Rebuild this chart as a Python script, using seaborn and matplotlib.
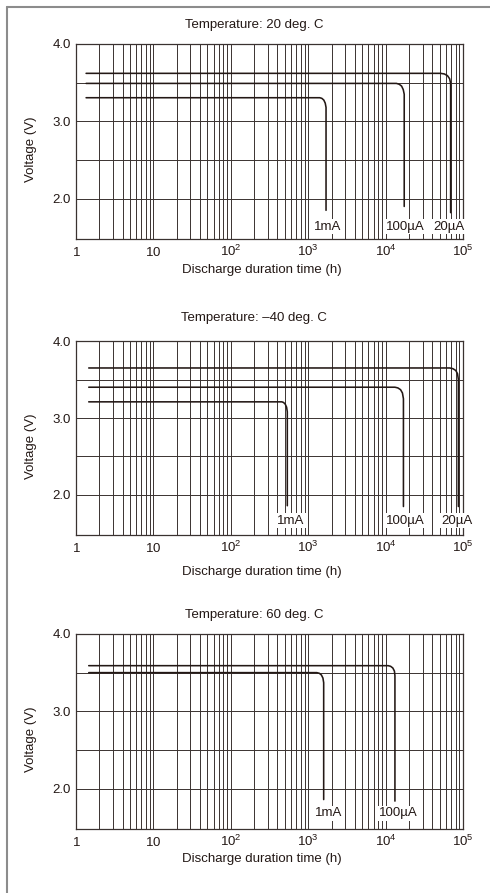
import matplotlib
matplotlib.use("Agg")
import matplotlib.pyplot as plt
from matplotlib.lines import Line2D
from matplotlib.ticker import LogLocator, NullFormatter
import seaborn as sns
import pandas as pd

# Titles of the three panels
titulos = [
    "Temperature: 20 deg. C",
    "Temperature: \u201340 deg. C",
    "Temperature: 60 deg. C",
]

# 20 deg. C  (hours, volts)
t20_20ua_h = [1.35, 51300, 57500, 63000, 67200, 69200, 69200]
t20_20ua_v = [3.62, 3.62, 3.612, 3.59, 3.55, 3.49, 1.82]
t20_100ua_h = [1.35, 13800, 15000, 16100, 16900, 17400, 17400]
t20_100ua_v = [3.49, 3.49, 3.479, 3.455, 3.41, 3.35, 1.90]
t20_1ma_h = [1.35, 1410, 1500, 1590, 1660, 1700, 1700]
t20_1ma_v = [3.305, 3.305, 3.297, 3.275, 3.235, 3.18, 1.85]

# -40 deg. C
tm40_20ua_h = [1.46, 67600, 74000, 80500, 85000, 87100, 87100]
tm40_20ua_v = [3.65, 3.65, 3.641, 3.618, 3.575, 3.50, 1.85]
tm40_100ua_h = [1.46, 13200, 14400, 15600, 16500, 17000, 17000]
tm40_100ua_v = [3.40, 3.40, 3.391, 3.368, 3.325, 3.25, 1.85]
tm40_1ma_h = [1.46, 457, 480, 505, 526, 537, 537]
tm40_1ma_v = [3.21, 3.21, 3.202, 3.18, 3.14, 3.08, 1.86]

# 60 deg. C
t60_100ua_h = [1.46, 10800, 11600, 12400, 13000, 13200, 13200]
t60_100ua_v = [3.59, 3.59, 3.582, 3.56, 3.52, 3.46, 1.84]
t60_1ma_h = [1.46, 1290, 1390, 1480, 1550, 1585, 1585]
t60_1ma_v = [3.50, 3.50, 3.492, 3.47, 3.43, 3.37, 1.86]

# Curve labels
rotulos_20 = ["1mA", "100\u00b5A", "20\u00b5A"]
rotulos_m40 = ["1mA", "100\u00b5A", "20\u00b5A"]
rotulos_60 = ["1mA", "100\u00b5A"]

# Axis ticks
x_ticks = [1, 10, 100, 1000, 10000, 100000]
x_tick_labels = [
    r"$\mathregular{1}$",
    r"$\mathregular{10}$",
    r"$\mathregular{10^2}$",
    r"$\mathregular{10^3}$",
    r"$\mathregular{10^4}$",
    r"$\mathregular{10^5}$",
]
y_ticks = [2.0, 3.0, 4.0]
y_tick_labels = ["2.0", "3.0", "4.0"]
y_minor = [2.5, 3.5]

PRETO = "#231815"
CINZA_GRADE = "#3a3230"


def montar_df(curvas):
    linhas = []
    for nome, hs, vs in curvas:
        for h, v in zip(hs, vs):
            linhas.append({"curva": nome, "horas": h, "volts": v})
    return pd.DataFrame(linhas)


def desenhar_painel(ax, titulo, curvas, rotulos, rotulo_x, rotulo_y, titulo_y, xlabel_y):
    df = montar_df(curvas)
    sns.lineplot(
        data=df, x="horas", y="volts", units="curva", estimator=None,
        sort=False, color=PRETO, lw=1.15, ax=ax, zorder=3,
    )
    ax.set_xscale("log")
    ax.set_xlim(1, 1e5)
    ax.set_ylim(1.48, 4.0)

    ax.set_xticks(x_ticks)
    ax.set_xticklabels(x_tick_labels)
    ax.xaxis.set_minor_locator(LogLocator(base=10, subs=range(2, 10), numticks=20))
    ax.xaxis.set_minor_formatter(NullFormatter())
    ax.set_yticks(y_ticks)
    ax.set_yticklabels(y_tick_labels)
    ax.set_yticks(y_minor, minor=True)

    ax.tick_params(which="both", length=0)
    ax.tick_params(axis="x", pad=12.5, labelsize=9.5, colors=PRETO)
    ax.tick_params(axis="y", pad=3.5, labelsize=9.5, colors=PRETO)
    for lab in ax.get_xticklabels():
        lab.set_verticalalignment("baseline")

    ax.grid(True, which="both", color=CINZA_GRADE, lw=0.7, zorder=1)
    ax.set_axisbelow(True)
    for sp in ax.spines.values():
        sp.set_color(CINZA_GRADE)
        sp.set_linewidth(0.9)

    # Curve labels with white box over the grid
    for txt, xh in zip(rotulos, rotulo_x):
        ax.text(
            xh, rotulo_y, txt, ha="center", va="center", fontsize=9.5,
            color=PRETO, zorder=4, clip_on=False,
            bbox=dict(facecolor="white", edgecolor="none", pad=1.0),
        )

    ax.text(0.46, titulo_y, titulo, transform=ax.transAxes, ha="center",
            va="center", fontsize=9.5, color=PRETO)
    ax.set_xlabel("")
    ax.text(0.48, xlabel_y, "Discharge duration time (h)", transform=ax.transAxes,
            ha="center", va="center", fontsize=9.5, color=PRETO)
    ax.set_ylabel("Voltage (V)", fontsize=9.5, color=PRETO)
    ax.yaxis.set_label_coords(-0.10, 0.46)


def criar_grafico():
    print("Gerando curvas de descarga...")
    sns.set_style("white")
    plt.rcParams["font.family"] = ["Liberation Sans", "DejaVu Sans"]
    plt.rcParams["mathtext.fontset"] = "custom"
    plt.rcParams["mathtext.rm"] = "Liberation Sans"

    fig = plt.figure(figsize=(4.9, 8.93), dpi=100)
    fig.patch.set_facecolor("white")

    # posicoes dos paineis (fracao da figura)
    ax1 = fig.add_axes([0.1551, 0.7324, 0.7898, 0.2184])
    ax2 = fig.add_axes([0.1551, 0.4009, 0.7898, 0.2172])
    ax3 = fig.add_axes([0.1551, 0.0717, 0.7898, 0.2184])

    desenhar_painel(
        ax1, titulos[0],
        [("20uA", t20_20ua_h, t20_20ua_v),
         ("100uA", t20_100ua_h, t20_100ua_v),
         ("1mA", t20_1ma_h, t20_1ma_v)],
        rotulos_20, [1800, 17800, 66000], 1.64, 1.097, -0.159,
    )
    desenhar_painel(
        ax2, titulos[1],
        [("20uA", tm40_20ua_h, tm40_20ua_v),
         ("100uA", tm40_100ua_h, tm40_100ua_v),
         ("1mA", tm40_1ma_h, tm40_1ma_v)],
        rotulos_m40, [590, 17800, 83000], 1.665, 1.118, -0.189,
    )
    desenhar_painel(
        ax3, titulos[2],
        [("100uA", t60_100ua_h, t60_100ua_v),
         ("1mA", t60_1ma_h, t60_1ma_v)],
        rotulos_60, [1820, 14500], 1.68, 1.097, -0.154,
    )

    # moldura cinza (topo e esquerda)
    y_top = 1 - 6.5 / 893
    x_left = 7.3 / 490
    fig.add_artist(Line2D([x_left, 1.0], [y_top, y_top], color="#8c8c8c", lw=1.5,
                          transform=fig.transFigure))
    fig.add_artist(Line2D([x_left, x_left], [0.0, y_top], color="#8c8c8c", lw=1.5,
                          transform=fig.transFigure))

    fig.savefig("out.png", dpi=100, facecolor="white")
    plt.close(fig)
    print("Grafico salvo em: out.png")


if __name__ == "__main__":
    criar_grafico()
